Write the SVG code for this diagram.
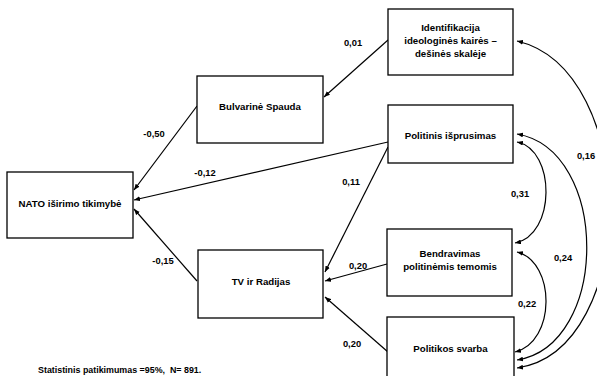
<svg xmlns="http://www.w3.org/2000/svg" width="597" height="376" viewBox="0 0 597 376">
<defs>
<marker id="ah" viewBox="0 0 10 8" refX="10" refY="4" markerWidth="6" markerHeight="5" orient="auto-start-reverse" markerUnits="userSpaceOnUse"><path d="M0,0 L10,4 L0,8 z" fill="#000"/></marker>
<style>
.box{fill:#fff;stroke:#000;stroke-width:1.3}
.t{font-family:"Liberation Sans",Arial,sans-serif;font-weight:bold;font-size:9.7px;fill:#000;text-anchor:middle}
.l{font-family:"Liberation Sans",Arial,sans-serif;font-weight:bold;font-size:9.4px;fill:#000;text-anchor:middle}
.c{fill:none;stroke:#000;stroke-width:1.2;marker-end:url(#ah)}
.d{fill:none;stroke:#000;stroke-width:1.2;marker-end:url(#ah);marker-start:url(#ah)}
</style>
</defs>
<rect width="597" height="376" fill="#fff"/>
<g id="connectors">
<line class="c" x1="197" y1="106" x2="134" y2="190"/>
<line class="c" x1="388" y1="142" x2="134" y2="200"/>
<line class="c" x1="197" y1="281" x2="134" y2="209"/>
<line class="c" x1="388" y1="40" x2="324" y2="97"/>
<line class="c" x1="388" y1="147" x2="325" y2="272"/>
<line class="c" x1="387" y1="264" x2="325" y2="281"/>
<line class="c" x1="388" y1="352" x2="325" y2="297"/>
<path class="d" d="M517,41 C640,70 640,350 517,368"/>
<path class="d" d="M517,134 C610,150 610,345 517,360"/>
<path class="d" d="M517,142 C556,150 556,235 515,243"/>
<path class="d" d="M517,252 C556,262 556,342 515,352"/>
</g>
<g id="labels">
<text class="l" x="154" y="136.5">-0,50</text>
<text class="l" x="205" y="175.5">-0,12</text>
<text class="l" x="163" y="263.5">-0,15</text>
<text class="l" x="353" y="45.5">0,01</text>
<text class="l" x="351" y="184.5">0,11</text>
<text class="l" x="358" y="268.5">0,20</text>
<text class="l" x="352" y="346.5">0,20</text>
<text class="l" x="586" y="158.5">0,16</text>
<text class="l" x="520" y="197">0,31</text>
<text class="l" x="563" y="260.5">0,24</text>
<text class="l" x="527" y="306.5">0,22</text>
</g>
<g id="n-ident">
<rect class="box" x="388" y="9" width="125" height="66"/>
<text class="t" x="450.5" y="30.5">Identifikacija</text>
<text class="t" x="450.5" y="43.5">ideologinės kairės –</text>
<text class="t" x="450.5" y="56.5">dešinės skalėje</text>
</g>
<g id="n-bulv">
<rect class="box" x="197" y="76" width="126" height="67"/>
<text class="t" x="260" y="109.5">Bulvarinė Spauda</text>
</g>
<g id="n-polit">
<rect class="box" x="388" y="105" width="125" height="58"/>
<text class="t" x="450.5" y="138.5">Politinis išprusimas</text>
</g>
<g id="n-nato">
<rect class="box" x="7" y="172" width="126" height="66"/>
<text class="t" x="70" y="206.5">NATO iširimo tikimybė</text>
</g>
<g id="n-tv">
<rect class="box" x="198" y="250" width="125" height="68"/>
<text class="t" x="261" y="284.5">TV ir Radijas</text>
</g>
<g id="n-bendr">
<rect class="box" x="387" y="229" width="125" height="67"/>
<text class="t" x="450" y="256.5">Bendravimas</text>
<text class="t" x="450" y="269.5">politinėmis temomis</text>
</g>
<g id="n-svarba">
<rect class="box" x="387" y="317" width="127" height="70"/>
<text class="t" x="450.5" y="351.5">Politikos svarba</text>
</g>
<text x="38" y="372.5" font-family="&quot;Liberation Sans&quot;, Arial, sans-serif" font-weight="bold" font-size="8.9px" xml:space="preserve">Statistinis patikimumas =95%,  N= 891.</text>
</svg>
